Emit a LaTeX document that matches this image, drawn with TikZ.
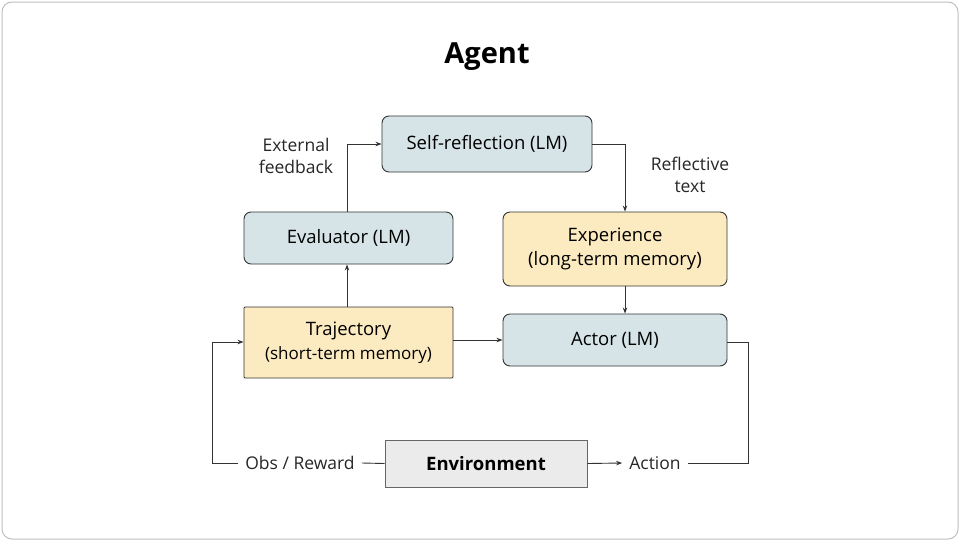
\documentclass[tikz,border=0pt]{standalone}
\usepackage{fontspec}
\setmainfont{Open Sans}
\usetikzlibrary{arrows.meta}
\definecolor{bluebox}{HTML}{D6E4E7}
\definecolor{yelbox}{HTML}{FCEBC1}
\definecolor{envbox}{HTML}{EBEBEB}
\definecolor{edge}{HTML}{333333}
\begin{document}
\begin{tikzpicture}[x=1pt,y=-1pt,
  box/.style={draw=edge,line width=0.9pt,rounded corners=7pt,align=center,font=\fontsize{18.5}{22}\selectfont,inner sep=0pt},
  lbl/.style={align=center,font=\fontsize{17.5}{22}\selectfont,text=black!85,inner sep=1pt},
  arr/.style={draw=edge,line width=0.9pt,-{Stealth[length=6pt,width=4.5pt]}},
  ln/.style={draw=edge,line width=0.9pt}]
\useasboundingbox (0,0) rectangle (960,541);
\draw[black!25,line width=1pt,rounded corners=10pt] (2,2) rectangle (958,539);
\node[font=\fontsize{29}{34}\selectfont\bfseries] (title) at (487,57) {Agent};
\node[box,fill=bluebox,minimum width=210pt,minimum height=56pt] (self) at (487,144) {Self-reflection (LM)};
\node[box,fill=bluebox,minimum width=209pt,minimum height=52pt] (eval) at (348.5,238) {Evaluator (LM)};
\node[box,fill=yelbox,minimum width=224pt,minimum height=74pt] (exp) at (615,249) {Experience\\[2pt](long-term memory)};
\node[box,fill=yelbox,rounded corners=1pt,minimum width=209pt,minimum height=71pt] (traj) at (348.5,342.5) {Trajectory\\[2pt]{\fontsize{17}{20}\selectfont(short-term memory)}};
\node[box,fill=bluebox,minimum width=224pt,minimum height=52pt] (actor) at (615,340) {Actor (LM)};
\node[box,fill=envbox,rounded corners=0pt,draw=black!60,minimum width=202pt,minimum height=47pt,font=\fontsize{18.5}{22}\selectfont\bfseries] (env) at (486,463.5) {Environment};
\node[lbl] (ext) at (296,156) {External\\feedback};
\node[lbl] (refl) at (690,175) {Reflective\\text};
\node[lbl,inner xsep=7pt] (obs) at (300,463) {Obs / Reward};
\node[lbl,inner xsep=7pt] (act) at (655,463) {Action};
\coordinate (c1) at (347,144);
\coordinate (c2) at (625,144);
\coordinate (c3) at (748,342);
\coordinate (c4) at (748,463);
\coordinate (c5) at (212,463);
\coordinate (c6) at (212,342);
\draw[arr] (eval.north -| c1) -- (c1) -- (self.west);
\draw[arr] (self.east) -- (c2) -- (exp.north -| c2);
\draw[arr] (exp.south -| c2) -- (actor.north -| c2);
\draw[arr] (traj.north -| c1) -- (eval.south -| c1);
\draw[arr] (traj.east |- actor.west) -- (actor.west);
\draw[ln] (actor.east |- c3) -- (c3) -- (c4) -- (act.east);
\draw[arr] (env.east) -- (act.west);
\draw[ln] (env.west) -- (obs.east);
\draw[arr] (obs.west) -- (c5) -- (c6) -- (traj.west |- c6);
\end{tikzpicture}
\end{document}
